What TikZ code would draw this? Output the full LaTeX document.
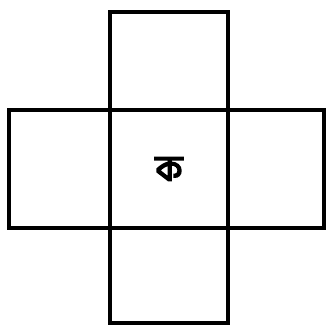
\documentclass[tikz,border=0pt]{standalone}
\usepackage{fontspec}
\newfontfamily\bnfont[Script=Bengali,FakeBold=4.5]{Hind Siliguri}
\tikzset{
  cell/.style={draw,line width=3.2pt,rectangle,inner sep=0pt,outer sep=0pt}
}
\begin{document}
\begin{tikzpicture}[x=1pt,y=-1pt]
  \useasboundingbox (0,0) rectangle (325,326);
  \node[cell,minimum width=118pt,minimum height=118pt] (mid) at (169,169) {};
  \node[cell,minimum width=118pt,minimum height=98pt] (top) at (169,61) {};
  \node[cell,minimum width=101pt,minimum height=118pt] (left) at (59.5,169) {};
  \node[cell,minimum width=96pt,minimum height=118pt] (right) at (276,169) {};
  \node[cell,minimum width=118pt,minimum height=95pt] (bottom) at (169,275.5) {};
  \node (ka) at (169,169) {\bnfont\fontsize{36}{36}\selectfont ক};
\end{tikzpicture}
\end{document}
